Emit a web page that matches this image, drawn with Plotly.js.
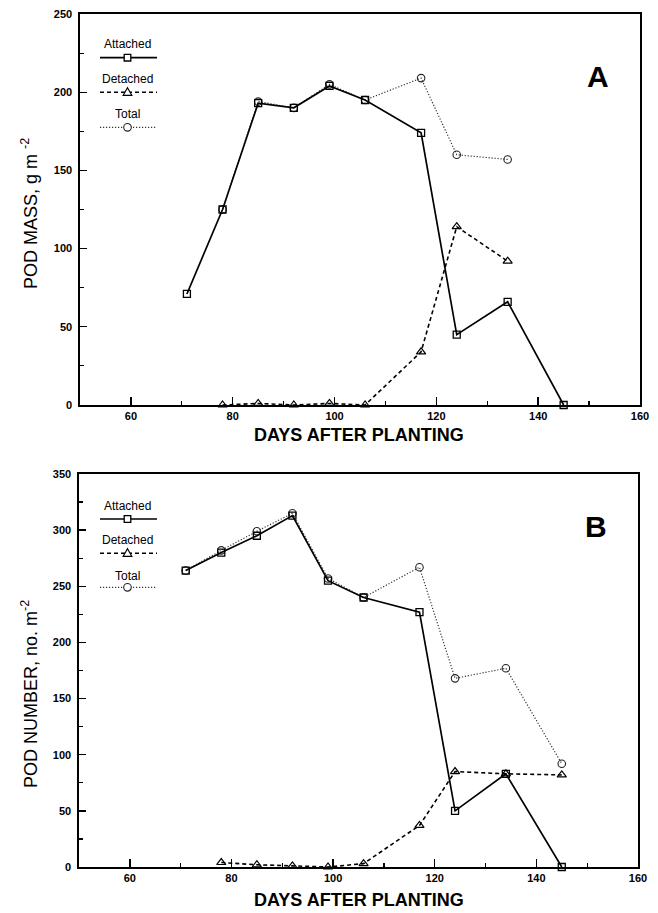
<!DOCTYPE html>
<html>
<head>
<meta charset="utf-8">
<script src="https://cdn.plot.ly/plotly-3.0.1.min.js"></script>
<style>html,body{margin:0;padding:0;background:#fff;}</style>
</head>
<body>
<div id="chart" style="width:658px;height:913px;"></div>
<script>
// ---- Data ----
const daysAttached = [71, 78, 85, 92, 99, 106, 117, 124, 134, 145];
const massAttached = [71, 125, 193, 190, 204, 195, 174, 45, 66, 0];
const daysDetached = [78, 85, 92, 99, 106, 117, 124, 134];
const massDetached = [0, 1, 0, 1, 0, 34, 114, 92];
const daysTotalA = [78, 85, 92, 99, 106, 117, 124, 134];
const massTotal = [125, 194, 190, 205, 195, 209, 160, 157];

const daysNumAttached = [71, 78, 85, 92, 99, 106, 117, 124, 134, 145];
const numAttached = [264, 280, 295, 313, 255, 240, 227, 50, 83, 0];
const daysNumDetached = [78, 85, 92, 99, 106, 117, 124, 134, 145];
const numDetached = [4, 2, 1, 0, 3, 37, 85, 83, 82];
const daysNumTotal = [71, 78, 85, 92, 99, 106, 117, 124, 134, 145];
const numTotal = [264, 282, 299, 315, 257, 240, 267, 168, 177, 92];

const seriesNames = ["Attached", "Detached", "Total"];
const xTitle = "DAYS AFTER PLANTING";
const yTitleA = "POD MASS, g m <sup>-2</sup>";
const yTitleB = "POD NUMBER, no. m<sup>-2</sup>";
const panelLabels = ["A", "B"];

// ---- Layout helpers (pixel -> paper) ----
const W = 658, H = 913;
const px = x => x / W;
const py = y => 1 - y / H;
const FONT = "Liberation Sans, Arial, sans-serif";

const styles = {
  Attached: {line: {color: "#000", width: 1.7, dash: "solid"}, marker: {symbol: "square-open", size: 7, color: "#000", line: {width: 1.3}}},
  Detached: {line: {color: "#000", width: 1.6, dash: "4px,3px"}, marker: {symbol: "triangle-up-open", size: 8, color: "#000", line: {width: 1.2}}},
  Total: {line: {color: "#333", width: 1.2, dash: "1.2px,1.8px"}, marker: {symbol: "circle-open", size: 7.5, color: "#222", line: {width: 1.1}}}
};

function tr(x, y, name, xa, ya) {
  return {x: x, y: y, type: "scatter", mode: "lines+markers", name: name,
    xaxis: xa, yaxis: ya, cliponaxis: false, showlegend: false,
    line: styles[name].line, marker: styles[name].marker, hoverinfo: "x+y"};
}

const data = [
  tr(daysTotalA, massTotal, "Total", "x", "y"),
  tr(daysDetached, massDetached, "Detached", "x", "y"),
  tr(daysAttached, massAttached, "Attached", "x", "y"),
  tr(daysNumTotal, numTotal, "Total", "x2", "y2"),
  tr(daysNumDetached, numDetached, "Detached", "x2", "y2"),
  tr(daysNumAttached, numAttached, "Attached", "x2", "y2")
];

function xax(domain, anchor) {
  return {domain: domain, anchor: anchor, range: [50, 160], tick0: 0, dtick: 20,
    ticks: "inside", ticklen: 8, tickwidth: 1.4, tickcolor: "#000",
    minor: {dtick: 10, ticks: "inside", ticklen: 4, tickwidth: 1.2, tickcolor: "#000", showgrid: false},
    showline: true, linewidth: 1.6, linecolor: "#000", mirror: true,
    showgrid: false, zeroline: false, automargin: false, fixedrange: true,
    tickfont: {family: FONT, size: 11, color: "#000", weight: 700}};
}
function yax(domain, anchor, range, minorStep) {
  return {domain: domain, anchor: anchor, range: range, tick0: 0, dtick: 50,
    ticks: "inside", ticklen: 7, tickwidth: 1.4, tickcolor: "#000",
    minor: {dtick: minorStep, ticks: "inside", ticklen: 4, tickwidth: 1.2, tickcolor: "#000", showgrid: false},
    showline: true, linewidth: 1.6, linecolor: "#000", mirror: true,
    showgrid: false, zeroline: false, automargin: false, fixedrange: true,
    ticklabelstandoff: 4,
    tickfont: {family: FONT, size: 11, color: "#000", weight: 700}};
}

// plot area pixel boxes
const boxA = {l: 80, r: 640, t: 14, b: 405};
const boxB = {l: 79, r: 638, t: 474, b: 867};

// ---- Legend drawn as shapes + annotations ----
const shapes = [];
const annotations = [];
function legendBlock(textYs, lineYs) {
  const x0 = 100, x1 = 157, xm = 127.5;
  seriesNames.forEach((n, i) => {
    annotations.push({text: n, xref: "paper", yref: "paper", x: px(xm), y: py(textYs[i]),
      xanchor: "center", yanchor: "middle", showarrow: false,
      font: {family: FONT, size: 12, color: "#000"}});
    const st = styles[n].line;
    shapes.push({type: "line", xref: "paper", yref: "paper",
      x0: px(x0), x1: px(x1), y0: py(lineYs[i]), y1: py(lineYs[i]),
      line: {color: st.color, width: st.width, dash: st.dash}});
    const ly = lineYs[i];
    if (n === "Attached") {
      shapes.push({type: "rect", xref: "paper", yref: "paper",
        x0: px(xm - 3.3), x1: px(xm + 3.3), y0: py(ly - 3.3), y1: py(ly + 3.3),
        fillcolor: "#fff", line: {color: "#000", width: 1.3}});
    } else if (n === "Detached") {
      const p = `M ${px(xm)} ${py(ly - 4.5)} L ${px(xm + 4.3)} ${py(ly + 3)} L ${px(xm - 4.3)} ${py(ly + 3)} Z`;
      shapes.push({type: "path", xref: "paper", yref: "paper", path: p,
        fillcolor: "#fff", line: {color: "#000", width: 1.2}});
    } else {
      shapes.push({type: "circle", xref: "paper", yref: "paper",
        x0: px(xm - 3.8), x1: px(xm + 3.8), y0: py(ly - 3.8), y1: py(ly + 3.8),
        fillcolor: "#fff", line: {color: "#222", width: 1.1}});
    }
  });
}
legendBlock([44, 79, 114], [57.7, 92.3, 127.3]);
legendBlock([506, 540, 575.7], [519, 553.3, 587.3]);

// Panel letters
const letterFont = {family: FONT, size: 30, color: "#000", weight: 700};
annotations.push({text: panelLabels[0], xref: "paper", yref: "paper", x: px(598), y: py(77),
  xanchor: "center", yanchor: "middle", showarrow: false, font: letterFont});
annotations.push({text: panelLabels[1], xref: "paper", yref: "paper", x: px(596), y: py(526),
  xanchor: "center", yanchor: "middle", showarrow: false, font: letterFont});

// Axis titles
const titleFont = {family: FONT, size: 18, color: "#000", weight: 700};
annotations.push({text: xTitle, xref: "paper", yref: "paper", x: px(359), y: py(435),
  xanchor: "center", yanchor: "middle", showarrow: false, font: titleFont});
annotations.push({text: xTitle, xref: "paper", yref: "paper", x: px(359), y: py(900),
  xanchor: "center", yanchor: "middle", showarrow: false, font: titleFont});
const yFont = {family: FONT, size: 18, color: "#000"};
annotations.push({text: yTitleA, xref: "paper", yref: "paper", x: px(29), y: py(214),
  xanchor: "center", yanchor: "middle", showarrow: false, textangle: -90, font: yFont});
annotations.push({text: yTitleB, xref: "paper", yref: "paper", x: px(29), y: py(694),
  xanchor: "center", yanchor: "middle", showarrow: false, textangle: -90, font: yFont});

const layout = {
  width: W, height: H, autosize: false,
  margin: {l: 0, r: 0, t: 0, b: 0, pad: 0},
  paper_bgcolor: "#fff", plot_bgcolor: "#fff",
  showlegend: false,
  font: {family: FONT, color: "#000"},
  xaxis: xax([px(boxA.l), px(boxA.r)], "y"),
  yaxis: yax([py(boxA.b), py(boxA.t)], "x", [0, 250], 25),
  xaxis2: xax([px(boxB.l), px(boxB.r)], "y2"),
  yaxis2: yax([py(boxB.b), py(boxB.t)], "x2", [0, 350], 25),
  shapes: shapes,
  annotations: annotations
};

Plotly.newPlot("chart", data, layout, {staticPlot: true, displayModeBar: false});
</script>
</body>
</html>
